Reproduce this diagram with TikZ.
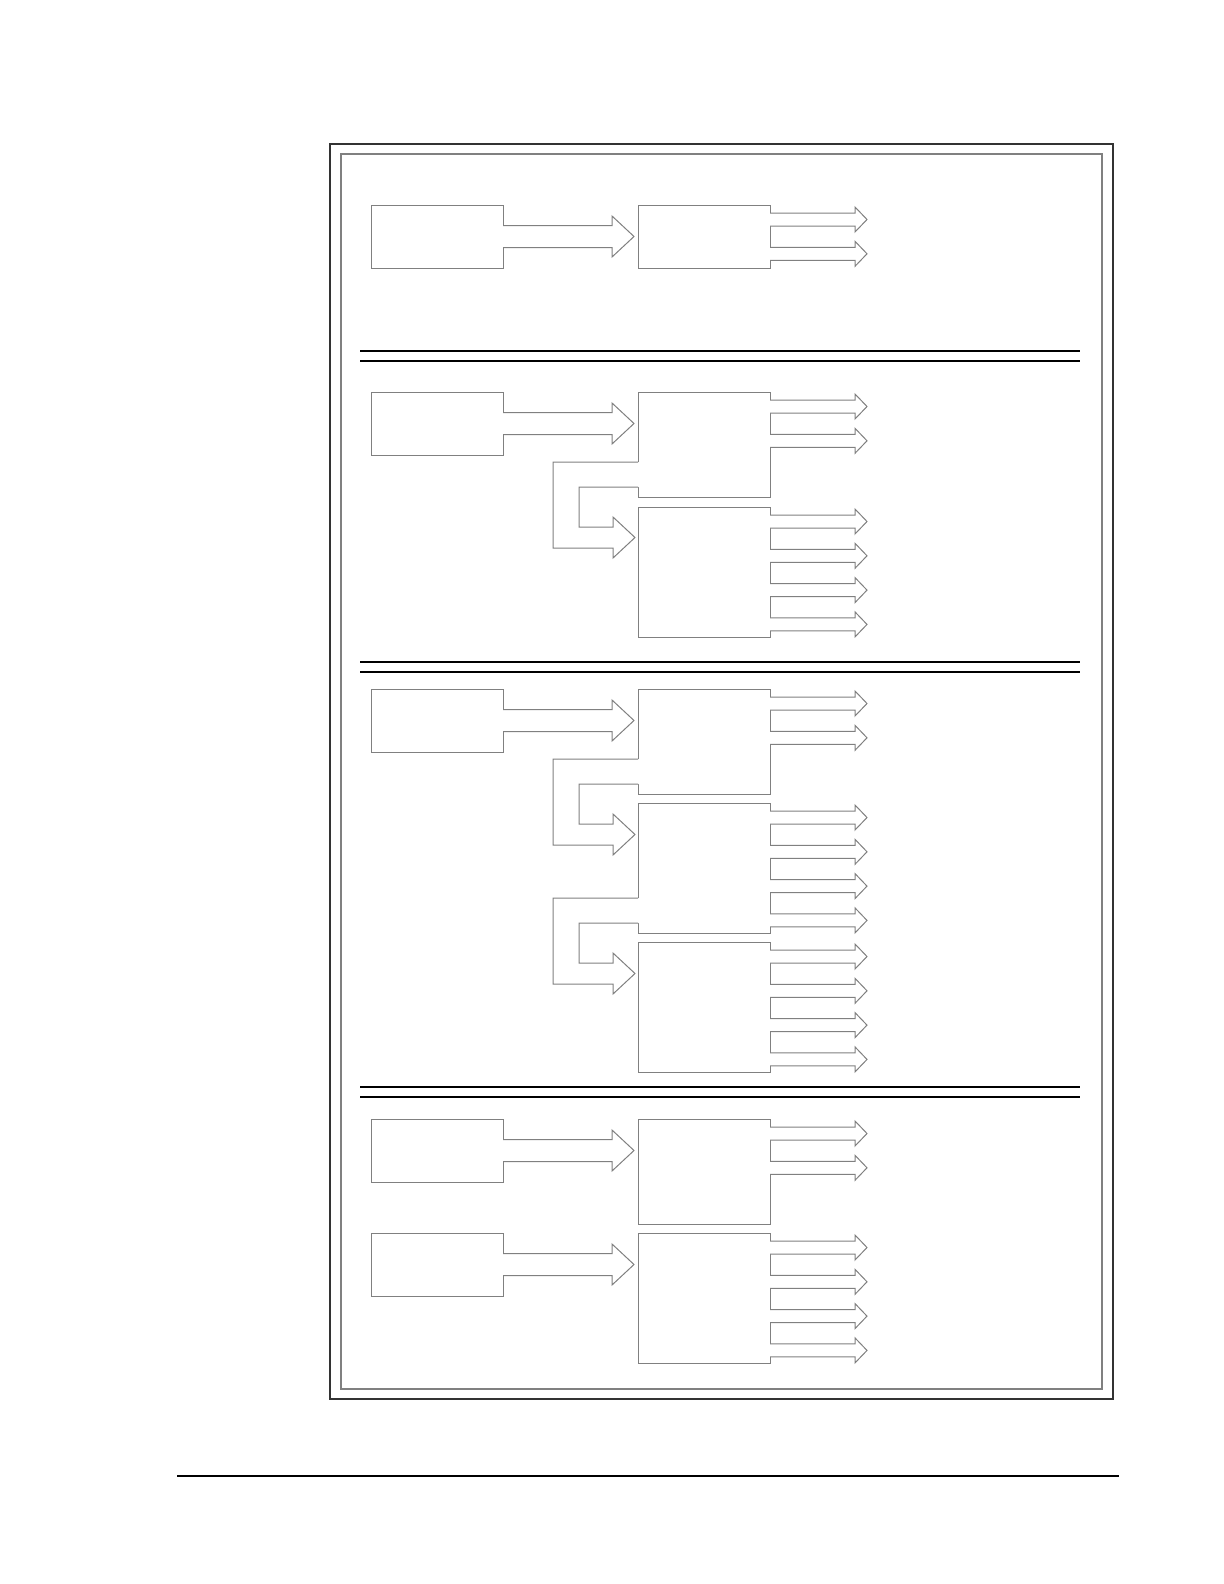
\documentclass[tikz,border=0pt]{standalone}
\usepackage{tikz}
\usetikzlibrary{positioning,calc}

\begin{document}
\begin{tikzpicture}[
    x = 0.5bp, y = -0.5bp,
    line join = miter,
    pipe/.style = {draw=black!50, line width=0.5bp},
    blk/.style = {pipe, rectangle, inner sep=0pt, outer sep=0pt, anchor=north west, minimum width=66bp},
    srcbox/.style = {blk, minimum height=31.5bp},
    midbox/.style = {blk, minimum height=52.5bp},
    tallbox/.style = {blk, minimum height=65bp},
    divider/.style = {draw=black, line width=0.6bp},
    pics/outarrow/.style = {code = {
        \fill[white] (-1,-6.5) -- (85,-6.5) -- (85,-12.5) -- (97,0) -- (85,12.5) -- (85,6.5) -- (-1,6.5) -- cycle;
        \draw[pipe] (0,-6.5) -- (85,-6.5) -- (85,-12.5) -- (97,0) -- (85,12.5) -- (85,6.5) -- (0,6.5);
    }},
    pics/widearrow/.style = {code = {
        \fill[white] (-1,-11) -- (109,-11) -- (109,-20.5) -- (131,0) -- (109,20.5) -- (109,11) -- (-1,11) -- cycle;
        \draw[pipe] (0,-11) -- (109,-11) -- (109,-20.5) -- (131,0) -- (109,20.5) -- (109,11) -- (0,11);
    }},
    pics/loopback/.style = {code = {
        \fill[white] (1,-35) -- (-85,-35) -- (-85,51) -- (-25,51) -- (-25,61) -- (-3,40.5) -- (-25,20) -- (-25,30) -- (-59,30) -- (-59,-10) -- (1,-10) -- cycle;
        \draw[pipe] (0,-35) -- (-85,-35) -- (-85,51) -- (-25,51) -- (-25,61) -- (-3,40.5) -- (-25,20) -- (-25,30) -- (-59,30) -- (-59,-10) -- (0,-10);
    }}
]
    \useasboundingbox (0,0) rectangle (1224,1584);

    \draw[line width=1bp, black!80] (330,144) rectangle (1113,1399);
    \draw[line width=1bp, black!50] (341,154) rectangle (1102,1389);
    \foreach \y in {351,662,1087}
        \draw[divider] (360,\y) -- (1080,\y) (360,\y+10) -- (1080,\y+10);
    \draw[line width=0.7bp] (177,1476) -- (1119,1476);

    \node[srcbox] (s1) at (371,205) {};
    \node[srcbox] (t1) at (638,205) {};

    \node[srcbox] (s2) at (371,392) {};
    \node[midbox] (u2) at (638,392) {};
    \node[tallbox, below=5bp of u2] (v2) {};

    \node[srcbox] (s3) at (371,689) {};
    \node[midbox] (u3) at (638,689) {};
    \node[tallbox, below=4.5bp of u3] (v3) {};
    \node[tallbox, below=4.5bp of v3] (w3) {};

    \node[srcbox] (s4) at (371,1119) {};
    \node[midbox] (u4) at (638,1119) {};
    \node[srcbox] (s5) at (371,1233) {};
    \node[tallbox, below=4.5bp of u4] (v4) {};

    \foreach \s in {s1,s2,s3,s4,s5}
        \pic at (\s.east) {widearrow};
    \foreach \b in {u2,u3,v3}
        \pic at (\b.south west) {loopback};
    \foreach \b/\n in {t1/1, u2/1, v2/3, u3/1, v3/3, w3/3, u4/1, v4/3}
        \foreach \k in {0,...,\n}
            \pic at ($(\b.north east)+(0,14.5+34.3*\k)$) {outarrow};
\end{tikzpicture}
\end{document}
